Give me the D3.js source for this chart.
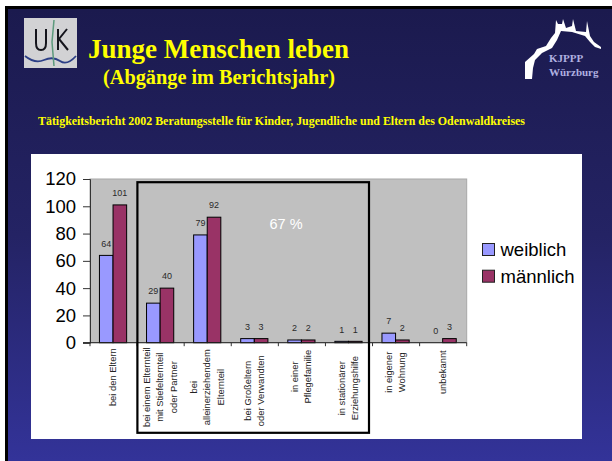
<!DOCTYPE html>
<html><head><meta charset="utf-8">
<script src="https://cdn.jsdelivr.net/npm/d3@7"></script>
<style>html,body{margin:0;padding:0;background:#fff}svg{display:block}</style>
</head><body><svg id="c" width="612" height="461"></svg>
<script>
const categories = [
 ["bei den Eltern"],
 ["bei einem Elternteil","mit Stiefelternteil","oder Partner"],
 ["bei","alleinerziehendem","Elternteil"],
 ["bei Großeltern","oder Verwandten"],
 ["in einer","Pflegefamilie"],
 ["in stationärer","Erziehungshilfe"],
 ["in eigener","Wohnung"],
 ["unbekannt"]];
const weiblich = [64,29,79,3,2,1,7,0];
const maennlich = [101,40,92,3,2,1,2,3];
const seriesNames = ["weiblich","männlich"];
const yTicks = [0,20,40,60,80,100,120];

const svg = d3.select("#c");
const defs = svg.append("defs");
const g = defs.append("linearGradient").attr("id","bg").attr("x1",0).attr("x2",0).attr("y1",0).attr("y2",1);
g.append("stop").attr("offset","0").attr("stop-color","#1b1a4e");
g.append("stop").attr("offset","0.5").attr("stop-color","#242364");
g.append("stop").attr("offset","1").attr("stop-color","#333399");

svg.append("rect").attr("x",5).attr("y",6).attr("width",607).attr("height",455).attr("fill","#000");
svg.append("rect").attr("x",8).attr("y",9).attr("width",604).attr("height",452).attr("fill","url(#bg)");
svg.append("rect").attr("x",31).attr("y",154).attr("width",551).attr("height",285).attr("fill","#fff");

const serif = "'Liberation Serif',serif", sans = "'Liberation Sans',Arial,sans-serif";
function txt(x,y,s,size,fill,anchor,weight,font){
  return svg.append("text").attr("x",x).attr("y",y).text(s).attr("font-size",size).attr("fill",fill)
   .attr("text-anchor",anchor||"start").attr("font-weight",weight||"normal").attr("font-family",font||sans);
}
txt(88,58,"Junge Menschen leben",27,"#ffff00","start","bold",serif);
txt(103,84,"(Abgänge im Berichtsjahr)",20.3,"#ffff00","start","bold",serif);
txt(38,125,"Tätigkeitsbericht 2002 Beratungsstelle für Kinder, Jugendliche und Eltern des Odenwaldkreises",11.9,"#ffff00","start","bold",serif).attr("textLength",487).attr("lengthAdjust","spacingAndGlyphs");

// logo left
svg.append("rect").attr("x",24).attr("y",18).attr("width",53).attr("height",50).attr("fill","#d2d2d4");
svg.append("path").attr("d","M36 29 L36 43 Q36 50 41 50 Q46 50 46 43 L46 29").attr("fill","none").attr("stroke","#15151c").attr("stroke-width",2);
svg.append("path").attr("d","M58 29 L58 50 M67 29 L59 39 L68 50").attr("fill","none").attr("stroke","#15151c").attr("stroke-width",2);
svg.append("path").attr("d","M25 56 Q35 64 44 60 T60 61 T76 56").attr("fill","none").attr("stroke","#2c3f86").attr("stroke-width",1.8);
svg.append("path").attr("d","M54 20 L52 42 L54 66").attr("fill","none").attr("stroke","#5c9a7c").attr("stroke-width",1.5);

// logo right
svg.append("path").attr("d","M525 79 L525 62 L534 54 L537 49 L546 46 L551 38 L555 33 L556 20 L558 24 L562 24 L563 19 L566 28 L572 26 L573 19 L576 31 L586 32 L587 21 L590 36 L594 42 L601 47 L601 49 L595 47 L590 42 L585 36 L572 32 L561 31 L557 40 L552 48 L542 53 L535 60 L533 68 L532 79 Z").attr("fill","#fff");
txt(549,62,"KJPPP",11,"#b0b0e0","start","bold",serif);
txt(549,76,"Würzburg",11,"#b0b0e0","start","bold",serif);

// chart
const x = d3.scaleBand().domain(d3.range(categories.length)).range([90,466.7]);
const y = d3.scaleLinear().domain([0,120]).range([342.7,179]);
const bw = 13.6;
svg.append("rect").attr("x",90).attr("y",179).attr("width",376.7).attr("height",163.7).attr("fill","#c0c0c0").attr("stroke","#a8a8a8").attr("stroke-width",1);

const series = [{vals:weiblich,fill:"#9999ff",off:-bw},{vals:maennlich,fill:"#993366",off:0}];
series.forEach(s=>{
  svg.append("g").selectAll("rect").data(s.vals.map((v,i)=>({v,i})).filter(d=>d.v>0)).join("rect")
   .attr("x",d=>x(d.i)+x.bandwidth()/2-0.5+s.off).attr("y",d=>y(d.v))
   .attr("width",bw).attr("height",d=>y(0)-y(d.v))
   .attr("fill",s.fill).attr("stroke","#000").attr("stroke-width",1);
  svg.append("g").selectAll("text").data(s.vals.map((v,i)=>({v,i}))).join("text")
   .attr("x",d=>x(d.i)+x.bandwidth()/2-0.5+s.off+bw/2).attr("y",d=>y(d.v)-8.8)
   .attr("text-anchor","middle").attr("font-size",9).attr("font-family",sans).attr("fill","#2a2a2a").text(d=>d.v);
});

// axes
const ya = d3.axisLeft(y).tickValues(yTicks).tickSize(7).tickPadding(7);
const yg = svg.append("g").attr("transform","translate(90,0)").call(ya);
yg.select(".domain").attr("stroke","#333");
yg.selectAll("text").attr("font-size",18.5).attr("font-family",sans).attr("fill","#000");
yg.selectAll("line").attr("stroke","#333");
const xa = svg.append("g");
xa.append("line").attr("x1",83).attr("x2",466.7).attr("y1",y(0)).attr("y2",y(0)).attr("stroke","#222");
xa.selectAll("line.t").data(d3.range(categories.length+1)).join("line").attr("class","t")
  .attr("x1",i=>90+i*x.step()).attr("x2",i=>90+i*x.step()).attr("y1",y(0)).attr("y2",y(0)+3.5).attr("stroke","#333");

// rotated category labels: distance of each label block's centre below the axis
const labelDrop = [34.5,44.5,44.5,48,34,45.5,29.5,29.5];
categories.forEach((lines,i)=>{
  const cx = x(i)+x.bandwidth()/2-0.5;
  const lh = 13.5;
  const t = svg.append("text").attr("transform",`translate(${cx},${y(0)+labelDrop[i]}) rotate(-90)`)
    .attr("text-anchor","middle").attr("font-size",9.4).attr("font-family",sans).attr("fill","#222");
  lines.forEach((l,j)=>{
    t.append("tspan").attr("x",0).attr("y",(j-(lines.length-1)/2)*lh+3).text(l);
  });
});

// highlight box
svg.append("rect").attr("x",137.4).attr("y",182.2).attr("width",231.6).attr("height",250.6).attr("fill","none").attr("stroke","#000").attr("stroke-width",2.2);
txt(286,229,"67 %",14.5,"#fff","middle","normal",sans);

// legend
seriesNames.forEach((n,i)=>{
  const ly = 256+i*26.7;
  svg.append("rect").attr("x",482.5).attr("y",ly-12.5).attr("width",12).attr("height",12).attr("fill",i?"#993366":"#9999ff").attr("stroke","#222").attr("stroke-width",1);
  txt(500.5,ly,n,18.5,"#000","start","normal",sans);
});
</script></body></html>
